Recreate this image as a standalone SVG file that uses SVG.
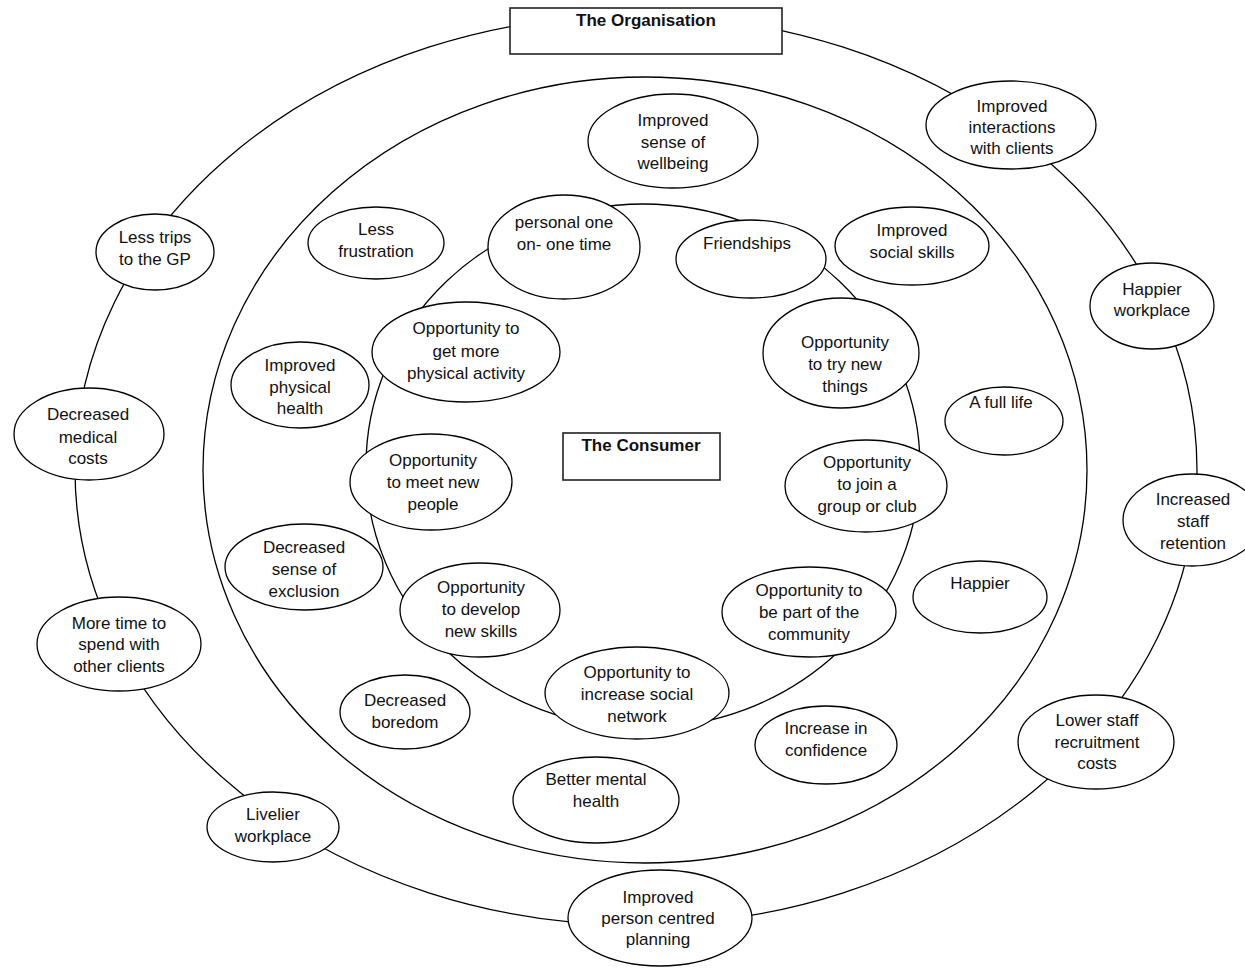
<svg xmlns="http://www.w3.org/2000/svg" width="1245" height="969" viewBox="0 0 1245 969">
<style>
.ring{fill:none;stroke:#000;stroke-width:1.3}
.n ellipse,.n rect{fill:#fff;stroke:#000;stroke-width:1.3}
.n rect{stroke:#222;stroke-width:1.6}
text{font-family:"Liberation Sans",Arial,sans-serif;font-size:17px;fill:#111;text-anchor:middle}
.b{font-weight:bold}
</style>
<rect width="1245" height="969" fill="#fff"/>
<g id="connectors">
<ellipse class="ring" cx="636" cy="470" rx="561" ry="455"/>
<ellipse class="ring" cx="645" cy="470" rx="442" ry="393"/>
<ellipse class="ring" cx="643" cy="466" rx="277" ry="262"/>
</g>
<g id="organisation" class="n"><rect x="510" y="8" width="272" height="46"/><text class="b" x="646" y="26">The Organisation</text></g>
<g id="interactions" class="n"><ellipse cx="1011" cy="125" rx="85" ry="44"/><text x="1012" y="112">Improved</text><text x="1012" y="133">interactions</text><text x="1012" y="154">with clients</text></g>
<g id="happier-workplace" class="n"><ellipse cx="1152" cy="306" rx="62" ry="43"/><text x="1152" y="295">Happier</text><text x="1152" y="316">workplace</text></g>
<g id="staff-retention" class="n"><ellipse cx="1192" cy="520" rx="69" ry="46"/><text x="1193" y="505">Increased</text><text x="1193" y="527">staff</text><text x="1193" y="549">retention</text></g>
<g id="recruitment" class="n"><ellipse cx="1096" cy="742" rx="78" ry="47"/><text x="1097" y="726">Lower staff</text><text x="1097" y="748">recruitment</text><text x="1097" y="769">costs</text></g>
<g id="person-centred" class="n"><ellipse cx="660" cy="918" rx="92" ry="48"/><text x="658" y="903">Improved</text><text x="658" y="924">person centred</text><text x="658" y="945">planning</text></g>
<g id="livelier" class="n"><ellipse cx="273" cy="827" rx="66" ry="35"/><text x="273" y="820">Livelier</text><text x="273" y="842">workplace</text></g>
<g id="more-time" class="n"><ellipse cx="119" cy="644" rx="82" ry="47"/><text x="119" y="629">More time to</text><text x="119" y="650">spend with</text><text x="119" y="672">other clients</text></g>
<g id="medical-costs" class="n"><ellipse cx="89" cy="434" rx="75" ry="46"/><text x="88" y="420">Decreased</text><text x="88" y="443">medical</text><text x="88" y="464">costs</text></g>
<g id="gp-trips" class="n"><ellipse cx="155" cy="252" rx="59" ry="38"/><text x="155" y="243">Less trips</text><text x="155" y="265">to the GP</text></g>
<g id="wellbeing" class="n"><ellipse cx="673" cy="141" rx="85" ry="47"/><text x="673" y="126">Improved</text><text x="673" y="148">sense of</text><text x="673" y="169">wellbeing</text></g>
<g id="frustration" class="n"><ellipse cx="376" cy="243" rx="68" ry="36"/><text x="376" y="235">Less</text><text x="376" y="257">frustration</text></g>
<g id="social-skills" class="n"><ellipse cx="912" cy="246" rx="77" ry="39"/><text x="912" y="236">Improved</text><text x="912" y="258">social skills</text></g>
<g id="physical-health" class="n"><ellipse cx="300" cy="385" rx="69" ry="43"/><text x="300" y="371">Improved</text><text x="300" y="393">physical</text><text x="300" y="414">health</text></g>
<g id="full-life" class="n"><ellipse cx="1004" cy="421" rx="59" ry="34"/><text x="1001" y="408">A full life</text></g>
<g id="exclusion" class="n"><ellipse cx="304" cy="567" rx="79" ry="43"/><text x="304" y="553">Decreased</text><text x="304" y="575">sense of</text><text x="304" y="597">exclusion</text></g>
<g id="happier" class="n"><ellipse cx="980" cy="597" rx="67" ry="36"/><text x="980" y="589">Happier</text></g>
<g id="boredom" class="n"><ellipse cx="405" cy="712" rx="65" ry="37"/><text x="405" y="706">Decreased</text><text x="405" y="728">boredom</text></g>
<g id="confidence" class="n"><ellipse cx="826" cy="745" rx="71" ry="39"/><text x="826" y="734">Increase in</text><text x="826" y="756">confidence</text></g>
<g id="mental-health" class="n"><ellipse cx="596" cy="800" rx="83" ry="43"/><text x="596" y="785">Better mental</text><text x="596" y="807">health</text></g>
<g id="one-on-one" class="n"><ellipse cx="564" cy="247" rx="76" ry="52"/><text x="564" y="228">personal one</text><text x="564" y="250">on- one time</text></g>
<g id="friendships" class="n"><ellipse cx="751" cy="259" rx="75" ry="39"/><text x="747" y="249">Friendships</text></g>
<g id="new-things" class="n"><ellipse cx="841" cy="353" rx="78" ry="55"/><text x="845" y="348">Opportunity</text><text x="845" y="370">to try new</text><text x="845" y="392">things</text></g>
<g id="physical-activity" class="n"><ellipse cx="466" cy="352" rx="94" ry="50"/><text x="466" y="334">Opportunity to</text><text x="466" y="357">get more</text><text x="466" y="379">physical activity</text></g>
<g id="meet-people" class="n"><ellipse cx="431" cy="482" rx="81" ry="48"/><text x="433" y="466">Opportunity</text><text x="433" y="488">to meet new</text><text x="433" y="510">people</text></g>
<g id="join-group" class="n"><ellipse cx="866" cy="486" rx="81" ry="46"/><text x="867" y="468">Opportunity</text><text x="867" y="490">to join a</text><text x="867" y="512">group or club</text></g>
<g id="new-skills" class="n"><ellipse cx="480" cy="610" rx="80" ry="47"/><text x="481" y="593">Opportunity</text><text x="481" y="615">to develop</text><text x="481" y="637">new skills</text></g>
<g id="community" class="n"><ellipse cx="809" cy="612" rx="87" ry="45"/><text x="809" y="596">Opportunity to</text><text x="809" y="618">be part of the</text><text x="809" y="640">community</text></g>
<g id="social-network" class="n"><ellipse cx="637" cy="693" rx="92" ry="46"/><text x="637" y="678">Opportunity to</text><text x="637" y="700">increase social</text><text x="637" y="722">network</text></g>
<g id="consumer" class="n"><rect x="563" y="433" width="157" height="47"/><text class="b" x="641" y="451">The Consumer</text></g>
</svg>
